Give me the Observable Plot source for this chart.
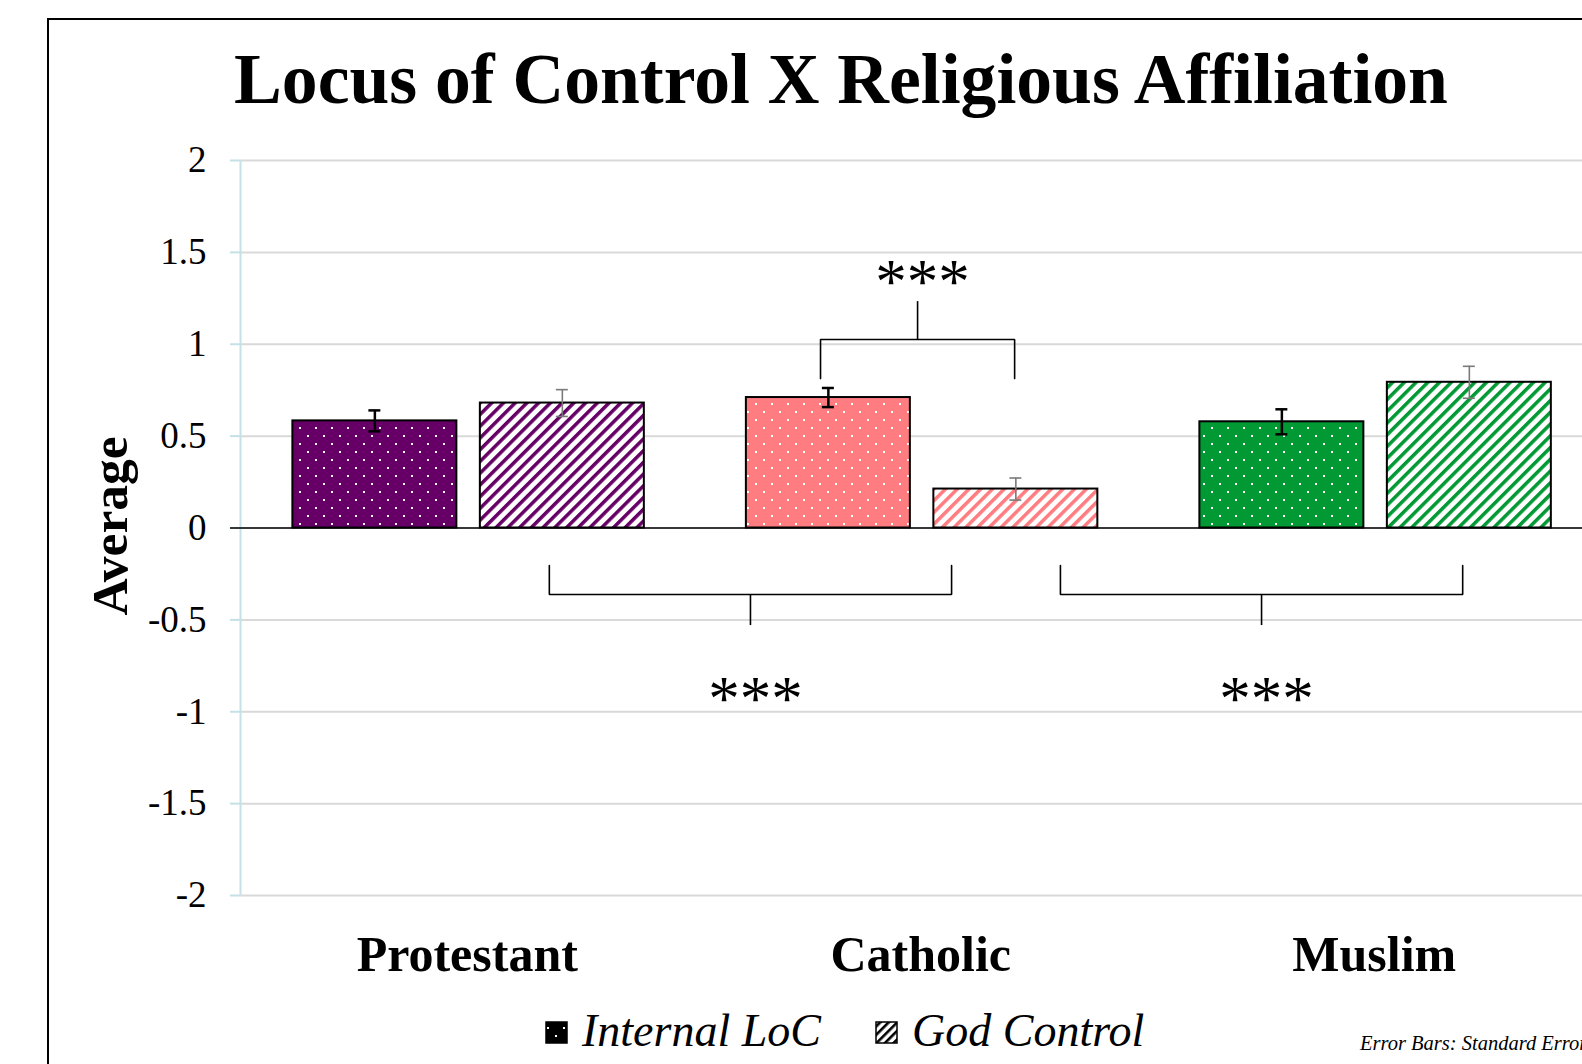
<!DOCTYPE html>
<html>
<head>
<meta charset="utf-8">
<script src="https://cdn.jsdelivr.net/npm/d3@7"></script>
<script src="https://cdn.jsdelivr.net/npm/@observablehq/plot@0.6"></script>
<style>
html, body { margin: 0; padding: 0; width: 1582px; height: 1064px; overflow: hidden; background: #fff; }
#stage { position: relative; width: 1582px; height: 1064px; overflow: hidden; }
#frame { position: absolute; left: 47px; top: 18px; width: 1700px; height: 1200px; border: 2px solid #000; box-sizing: border-box; }
#chart { position: absolute; left: 0; top: 0; }
#overlay { position: absolute; left: 0; top: 0; }
#defs { position: absolute; width: 0; height: 0; }
</style>
</head>
<body>
<div id="stage">
  <div id="frame"></div>
  <svg id="defs" width="0" height="0"></svg>
  <div id="chart"></div>
  <svg id="overlay" width="1582" height="1064"></svg>
</div>
<script>
// ---------- data ----------
const categories = ["Protestant", "Catholic", "Muslim"];
const seriesNames = ["Internal LoC", "God Control"];
const internalMeans = [0.583, 0.71, 0.578];
const internalSE = [0.057, 0.052, 0.068];
const godMeans = [0.68, 0.212, 0.793];
const godSE = [0.073, 0.06, 0.087];
const categoryColors = ["#660066", "#ff7c80", "#009933"];
const yTicks = [-2, -1.5, -1, -0.5, 0, 0.5, 1, 1.5, 2];
const titleText = "Locus of Control X Religious Affiliation";
const yLabel = "Average";
const footnote = "Error Bars: Standard Error";
// significance brackets (x in category units, y in data units)
const significance = [
  {x1: 1.279, x2: 1.707, yEnd: 0.813, yBar: 1.026, yStem: 1.232, yLabel: 1.41, label: "***"},
  {x1: 0.681, x2: 1.568, yEnd: -0.204, yBar: -0.362, yStem: -0.531, yLabel: -0.86, label: "***"},
  {x1: 1.808, x2: 2.695, yEnd: -0.204, yBar: -0.362, yStem: -0.531, yLabel: -0.86, label: "***"}
];

const SERIF = "'Liberation Serif', 'Times New Roman', serif";

// ---------- patterns ----------
const defs = d3.select("#defs").append("defs");
function dotPattern(id, col) {
  const p = defs.append("pattern").attr("id", id).attr("patternUnits", "userSpaceOnUse").attr("width", 16).attr("height", 16);
  p.append("rect").attr("width", 16).attr("height", 16).attr("fill", col);
  p.append("rect").attr("x", 3).attr("y", 3).attr("width", 2).attr("height", 2).attr("fill", "#fff");
  p.append("rect").attr("x", 11).attr("y", 11).attr("width", 2).attr("height", 2).attr("fill", "#fff");
}
function stripePattern(id, col, period, w) {
  const p = defs.append("pattern").attr("id", id).attr("patternUnits", "userSpaceOnUse")
    .attr("width", period).attr("height", period).attr("patternTransform", "rotate(45)");
  p.append("rect").attr("width", period).attr("height", period).attr("fill", "#fff");
  p.append("rect").attr("width", w).attr("height", period).attr("fill", col);
}
categoryColors.forEach((c, i) => { dotPattern(`dots-${i}`, c); stripePattern(`stripes-${i}`, c, 8.3, 3.5); });
dotPattern("legend-dots", "#000");
stripePattern("legend-stripes", "#000", 6, 2.6);

// ---------- chart ----------
const barData = categories.flatMap((c, i) => [
  {category: c, i, series: seriesNames[0], value: internalMeans[i], se: internalSE[i]},
  {category: c, i, series: seriesNames[1], value: godMeans[i], se: godSE[i]}
]);
const CENTER = 0.503, OFFSET = 0.2067, HALF = 0.1808, CAP = 0.0132;
const isInternal = d => d.series === seriesNames[0];
const pos = d => d.i + CENTER + (isInternal(d) ? -OFFSET : OFFSET);
const fillOf = d => isInternal(d) ? `url(#dots-${d.i})` : `url(#stripes-${d.i})`;
const internalBars = barData.filter(isInternal);
const godBars = barData.filter(d => !isInternal(d));
const caps = arr => arr.flatMap(d => [{...d, yv: d.value - d.se}, {...d, yv: d.value + d.se}]);
const bracketPts = significance.flatMap((b, k) => [
  {k, x: b.x1, y: b.yEnd}, {k, x: b.x1, y: b.yBar}, {k, x: b.x2, y: b.yBar}, {k, x: b.x2, y: b.yEnd}
]);
const mid = d => (d.x1 + d.x2) / 2;
const AXIS = "#c5e1e6";

const chart = Plot.plot({
  width: 1640, height: 1064,
  marginLeft: 240, marginRight: 39.5, marginTop: 160, marginBottom: 169,
  x: {domain: [0, 3]},
  y: {domain: [-2, 2]},
  color: {type: "identity"},
  style: {fontFamily: SERIF, background: "transparent", maxWidth: "none", overflow: "visible", color: "#000"},
  marks: [
    Plot.gridY(yTicks, {stroke: "#d9d9d9", strokeOpacity: 1, strokeWidth: 2}),
    Plot.axisY({ticks: yTicks, tickSize: 10, tickPadding: 24, stroke: AXIS, strokeWidth: 2, fontSize: 37, tickFormat: d => String(d), label: null}),
    Plot.ruleX([0], {y1: -2, y2: 2, stroke: AXIS, strokeWidth: 2}),
    Plot.rect(barData, {x1: d => pos(d) - HALF, x2: d => pos(d) + HALF, y1: 0, y2: "value", fill: fillOf, stroke: "black", strokeWidth: 2}),
    Plot.ruleY([0], {stroke: "black", strokeWidth: 1.5}),
    Plot.axisY({ticks: [0], tickSize: 10, stroke: "black", strokeWidth: 1.5, fill: "none", label: null}),
    Plot.ruleX(internalBars, {x: pos, y1: d => d.value - d.se, y2: d => d.value + d.se, stroke: "black", strokeWidth: 2.5}),
    Plot.ruleY(caps(internalBars), {x1: d => pos(d) - CAP, x2: d => pos(d) + CAP, y: "yv", stroke: "black", strokeWidth: 2.5}),
    Plot.ruleX(godBars, {x: pos, y1: d => d.value - d.se, y2: d => d.value + d.se, stroke: "#7a7a7a", strokeWidth: 1.6}),
    Plot.ruleY(caps(godBars), {x1: d => pos(d) - CAP, x2: d => pos(d) + CAP, y: "yv", stroke: "#7a7a7a", strokeWidth: 1.6}),
    Plot.line(bracketPts, {x: "x", y: "y", z: "k", stroke: "black", strokeWidth: 1.6, strokeLinejoin: "miter", curve: "linear"}),
    Plot.ruleX(significance, {x: mid, y1: "yBar", y2: "yStem", stroke: "black", strokeWidth: 1.6}),
    Plot.text(significance, {x: mid, y: "yLabel", text: "label", fontSize: 63, dx: 5, dy: 14, fill: "black", style: "letter-spacing:3px"}),
    Plot.axisX({ticks: [0.5, 1.5, 2.5], tickFormat: d => categories[Math.floor(d)], tickSize: 0, tickPadding: 40, fontSize: 50, fontWeight: "bold", label: null})
  ]
});
document.getElementById("chart").appendChild(chart);

// ---------- title, axis label, legend, footnote ----------
const ov = d3.select("#overlay");
ov.append("text").attr("x", 841).attr("y", 103).attr("text-anchor", "middle")
  .attr("font-family", SERIF).attr("font-weight", "bold").attr("font-size", 71.6).text(titleText);
ov.append("text").attr("transform", "translate(127,526) rotate(-90)").attr("text-anchor", "middle")
  .attr("font-family", SERIF).attr("font-weight", "bold").attr("font-size", 51.5).text(yLabel);

const legendPatterns = ["legend-dots", "legend-stripes"];
const legendX = [546, 876];
seriesNames.forEach((name, k) => {
  ov.append("rect").attr("x", legendX[k]).attr("y", 1022).attr("width", 21).attr("height", 21)
    .attr("fill", `url(#${legendPatterns[k]})`).attr("stroke", "#000").attr("stroke-width", 1.5);
  ov.append("text").attr("x", legendX[k] + 36).attr("y", 1046)
    .attr("font-family", SERIF).attr("font-style", "italic").attr("font-size", 46).text(name);
});
ov.append("text").attr("x", 1360).attr("y", 1050).attr("font-family", SERIF).attr("font-style", "italic")
  .attr("font-size", 20.5).text(footnote);
</script>
</body>
</html>
